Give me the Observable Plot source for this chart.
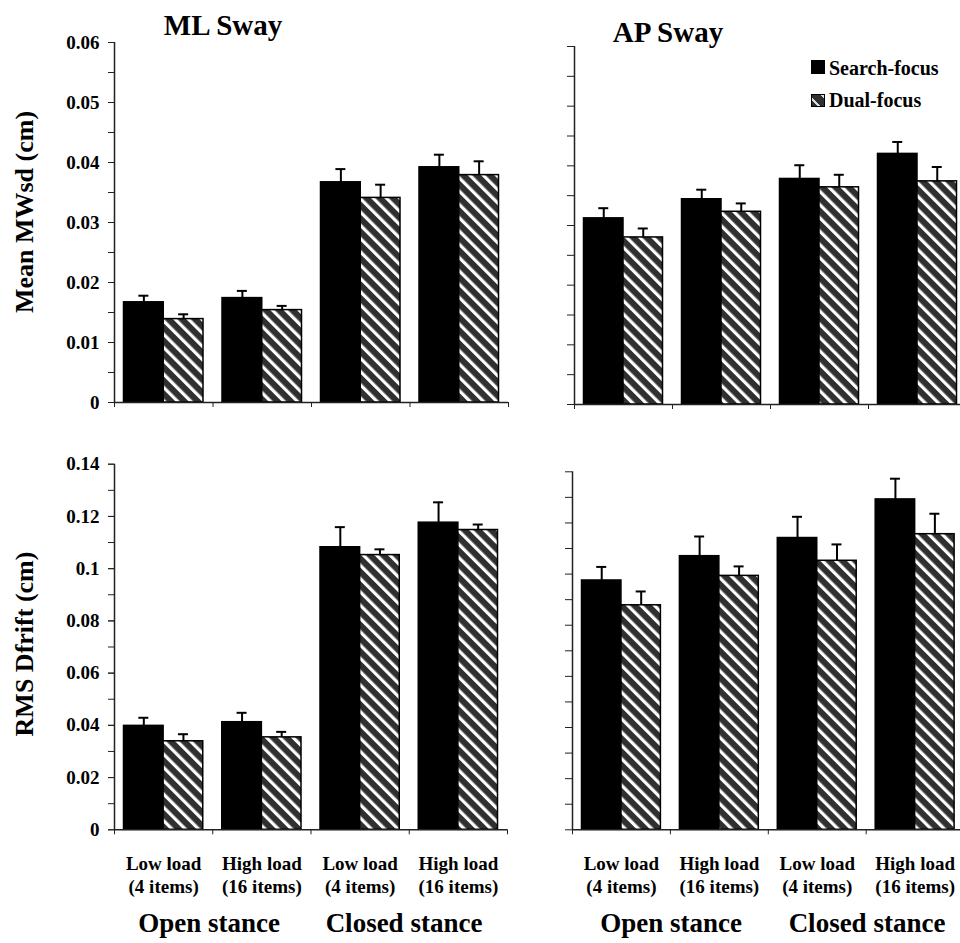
<!DOCTYPE html>
<html>
<head>
<meta charset="utf-8">
<script src="https://cdn.jsdelivr.net/npm/d3@7"></script>
<script src="https://cdn.jsdelivr.net/npm/@observablehq/plot@0.6"></script>
<style>
  html, body { margin: 0; padding: 0; background: #fff; overflow: hidden; }
  #root { position: relative; width: 960px; height: 943px; overflow: hidden; background: #fff;
          font-family: "Liberation Serif", "Times New Roman", serif; font-weight: bold; color: #000; }
  #root svg text { font-family: "Liberation Serif", "Times New Roman", serif !important; font-weight: bold; }
  .abs { position: absolute; white-space: nowrap; line-height: 1; }
  .ctr { transform: translateX(-50%); }
  .rot { transform: translate(-50%, -50%) rotate(-90deg); }
  .sw { position: absolute; width: 14px; height: 13px; box-sizing: border-box; }
</style>
</head>
<body>
<div id="root"></div>
<script>
// ---------- data ----------
const categories = ["Open-Low", "Open-High", "Closed-Low", "Closed-High"];
const categoryLabels = ["Low load\n(4 items)", "High load\n(16 items)", "Low load\n(4 items)", "High load\n(16 items)"];
const series = ["Search-focus", "Dual-focus"];
const stanceLabels = ["Open stance", "Closed stance"];
const panelTitles = ["ML Sway", "AP Sway"];
const yLabels = ["Mean MWsd (cm)", "RMS Dfrift (cm)"];

// Mean MWsd (cm)
const mlMwsdSearch    = [0.0167, 0.0174, 0.0367, 0.0392];
const mlMwsdSearchErr = [0.0011, 0.0012, 0.0022, 0.0021];
const mlMwsdDual      = [0.0139, 0.0154, 0.0341, 0.0379];
const mlMwsdDualErr   = [0.0008, 0.0007, 0.0022, 0.0023];

const apMwsdSearch    = [0.0312, 0.0344, 0.0378, 0.0420];
const apMwsdSearchErr = [0.0017, 0.0016, 0.0023, 0.0020];
const apMwsdDual      = [0.0280, 0.0323, 0.0364, 0.0374];
const apMwsdDualErr   = [0.0015, 0.0014, 0.0021, 0.0024];

// RMS Dfrift (cm)
const mlRmsSearch    = [0.0398, 0.0412, 0.1082, 0.1176];
const mlRmsSearchErr = [0.0031, 0.0036, 0.0077, 0.0078];
const mlRmsDual      = [0.0339, 0.0354, 0.1052, 0.1148];
const mlRmsDualErr   = [0.0027, 0.0021, 0.0022, 0.0021];

const apRmsSearch    = [0.0975, 0.1070, 0.1141, 0.1292];
const apRmsSearchErr = [0.0053, 0.0077, 0.0083, 0.0081];
const apRmsDual      = [0.0878, 0.0993, 0.1052, 0.1156];
const apRmsDualErr   = [0.0054, 0.0037, 0.0064, 0.0080];

// axis ticks
const mwsdTicks = [0, 0.01, 0.02, 0.03, 0.04, 0.05, 0.06];
const mwsdMinorTicks = [0, 0.005, 0.01, 0.015, 0.02, 0.025, 0.03, 0.035, 0.04, 0.045, 0.05, 0.055, 0.06];
const rmsTicks = [0, 0.02, 0.04, 0.06, 0.08, 0.1, 0.12, 0.14];
const rmsMinorTicks = [0, 0.01, 0.02, 0.03, 0.04, 0.05, 0.06, 0.07, 0.08, 0.09, 0.1, 0.11, 0.12, 0.13, 0.14];

// ---------- drawing ----------
const FONT = '"Liberation Serif", "Times New Roman", serif';
const AXIS = "#222";
const root = document.getElementById("root");

function panel(cfg) {
  const {id, search, searchErr, dual, dualErr, yMax, major, minor, tickLabels, catLabels,
         left, top, width, height, ml, mr, mt, mb, tickLen} = cfg;
  const bw = (width - ml - mr) / categories.length;
  const pad = 9.5;
  const off = pad / 2 - bw / 4; // offset of the black bar centre from band centre
  const capHalf = 5;
  const rowsS = categories.map((c, i) => ({cat: c, series: series[0], value: search[i], err: searchErr[i]}));
  const rowsD = categories.map((c, i) => ({cat: c, series: series[1], value: dual[i], err: dualErr[i]}));
  const pid = "hatch-" + id;
  const defs = () => {
    const d = d3.create("svg:defs");
    const p = d.append("pattern").attr("id", pid).attr("patternUnits", "userSpaceOnUse")
      .attr("width", 9.4).attr("height", 9.4).attr("patternTransform", "rotate(-45)");
    p.append("rect").attr("width", 9.4).attr("height", 9.4).attr("fill", "#303030");
    p.append("rect").attr("x", 0).attr("width", 3.2).attr("height", 9.4).attr("fill", "#fff");
    return d.node();
  };
  const marks = [
    defs,
    Plot.barY(rowsS, {x: "cat", y: "value", fill: "#000", stroke: "#000", strokeWidth: 1.5, insetLeft: pad, insetRight: bw / 2}),
    Plot.barY(rowsD, {x: "cat", y: "value", fill: `url(#${pid})`, stroke: "#000", strokeWidth: 1.5, insetLeft: bw / 2, insetRight: pad}),
    Plot.ruleX(rowsS, {x: "cat", y1: "value", y2: d => d.value + d.err, dx: off, stroke: "#000", strokeWidth: 2}),
    Plot.ruleX(rowsD, {x: "cat", y1: "value", y2: d => d.value + d.err, dx: -off, stroke: "#000", strokeWidth: 2}),
    Plot.tickY(rowsS, {x: "cat", y: d => d.value + d.err, insetLeft: bw / 2 + off - capHalf, insetRight: bw / 2 - off - capHalf, stroke: "#000", strokeWidth: 2}),
    Plot.tickY(rowsD, {x: "cat", y: d => d.value + d.err, insetLeft: bw / 2 - off - capHalf, insetRight: bw / 2 + off - capHalf, stroke: "#000", strokeWidth: 2}),
    Plot.ruleY([0], {stroke: AXIS, strokeWidth: 1.5}),
    Plot.ruleX([categories[0]], {x: d => d, y1: 0, y2: yMax, dx: -bw / 2, stroke: AXIS, strokeWidth: 1.5}),
    Plot.axisY({ticks: minor, tickSize: tickLen, tickFormat: () => "", label: null, stroke: AXIS}),
    Plot.axisX({ticks: categories, tickSize: 5, tickFormat: () => "", dx: -bw / 2, label: null, stroke: AXIS}),
    Plot.axisX({ticks: [categories[categories.length - 1]], tickSize: 5, tickFormat: () => "", dx: bw / 2, label: null, stroke: AXIS})
  ];
  if (tickLabels) {
    marks.push(Plot.axisY({ticks: major, tickSize: tickLen, tickPadding: 9, tickFormat: d => String(d),
      fontFamily: FONT, fontSize: 19, fontWeight: "bold", label: null, stroke: AXIS, fill: "#000"}));
  }
  if (catLabels) {
    marks.push(Plot.axisX({ticks: categories, tickSize: 0, tickPadding: 23,
      tickFormat: d => categoryLabels[categories.indexOf(d)], fontFamily: FONT, fontSize: 19, fontWeight: "bold",
      lineHeight: 1.25, label: null, fill: "#000"}));
  }
  const svg = Plot.plot({
    width, height,
    marginLeft: ml, marginRight: mr, marginTop: mt, marginBottom: mb,
    x: {type: "band", domain: categories, padding: 0, round: false},
    y: {domain: [0, yMax], nice: false},
    style: {fontFamily: FONT, fontSize: "19px", fontWeight: "bold", background: "transparent", overflow: "visible", color: "#000"},
    marks
  });
  svg.style.position = "absolute";
  svg.style.left = left + "px";
  svg.style.top = top + "px";
  root.appendChild(svg);
}

panel({id: "tl", search: mlMwsdSearch, searchErr: mlMwsdSearchErr, dual: mlMwsdDual, dualErr: mlMwsdDualErr,
  yMax: 0.06, major: mwsdTicks, minor: mwsdMinorTicks, tickLabels: true, catLabels: false,
  left: 0, top: 0, width: 520, height: 420, ml: 114, mr: 12, mt: 42, mb: 18, tickLen: 6});
panel({id: "tr", search: apMwsdSearch, searchErr: apMwsdSearchErr, dual: apMwsdDual, dualErr: apMwsdDualErr,
  yMax: 0.06, major: mwsdTicks, minor: mwsdMinorTicks, tickLabels: false, catLabels: false,
  left: 480, top: 0, width: 490, height: 420, ml: 94, mr: 4, mt: 46, mb: 16, tickLen: 7});
panel({id: "bl", search: mlRmsSearch, searchErr: mlRmsSearchErr, dual: mlRmsDual, dualErr: mlRmsDualErr,
  yMax: 0.14, major: rmsTicks, minor: rmsMinorTicks, tickLabels: true, catLabels: true,
  left: 0, top: 420, width: 520, height: 523, ml: 114, mr: 13, mt: 43.7, mb: 113.7, tickLen: 6});
panel({id: "br", search: apRmsSearch, searchErr: apRmsSearchErr, dual: apRmsDual, dualErr: apRmsDualErr,
  yMax: 0.14, major: rmsTicks, minor: rmsMinorTicks, tickLabels: false, catLabels: true,
  left: 480, top: 420, width: 490, height: 523, ml: 92, mr: 6.4, mt: 51.3, mb: 113.7, tickLen: 7});

// ---------- text overlays ----------
function addText(txt, cls, left, top, size) {
  const d = document.createElement("div");
  d.className = "abs " + cls;
  d.textContent = txt;
  d.style.left = left + "px";
  d.style.top = top + "px";
  d.style.fontSize = size + "px";
  root.appendChild(d);
  return d;
}
// titles (baseline ≈ top + 0.8375·size)
addText(panelTitles[0], "ctr", 223, 35 - 0.8375 * 29, 29);
addText(panelTitles[1], "ctr", 668, 42.7 - 0.8375 * 29, 29);
// y-axis titles (rotated)
addText(yLabels[0], "rot", 24.5, 212, 26);
addText(yLabels[1], "rot", 24.5, 644, 26);
// stance group labels
const stanceTop = 933 - 0.8375 * 27;
addText(stanceLabels[0], "ctr", 209, stanceTop, 27);
addText(stanceLabels[1], "ctr", 404, stanceTop, 27);
addText(stanceLabels[0], "ctr", 671, stanceTop, 27);
addText(stanceLabels[1], "ctr", 867, stanceTop, 27);
// legend
const sw1 = document.createElement("div");
sw1.className = "sw"; sw1.style.left = "811px"; sw1.style.top = "60px"; sw1.style.height = "14px";
sw1.style.background = "#000";
root.appendChild(sw1);
const sw2 = document.createElement("div");
sw2.className = "sw"; sw2.style.left = "811px"; sw2.style.top = "94px";
sw2.style.border = "1px solid #000";
sw2.style.background = "repeating-linear-gradient(45deg, #303030 0 4px, #ddd 4px 6px, #303030 6px 10px)";
root.appendChild(sw2);
addText(series[0], "", 829, 75 - 0.8375 * 20, 20);
addText(series[1], "", 829, 106.7 - 0.8375 * 20, 20);
</script>
</body>
</html>
